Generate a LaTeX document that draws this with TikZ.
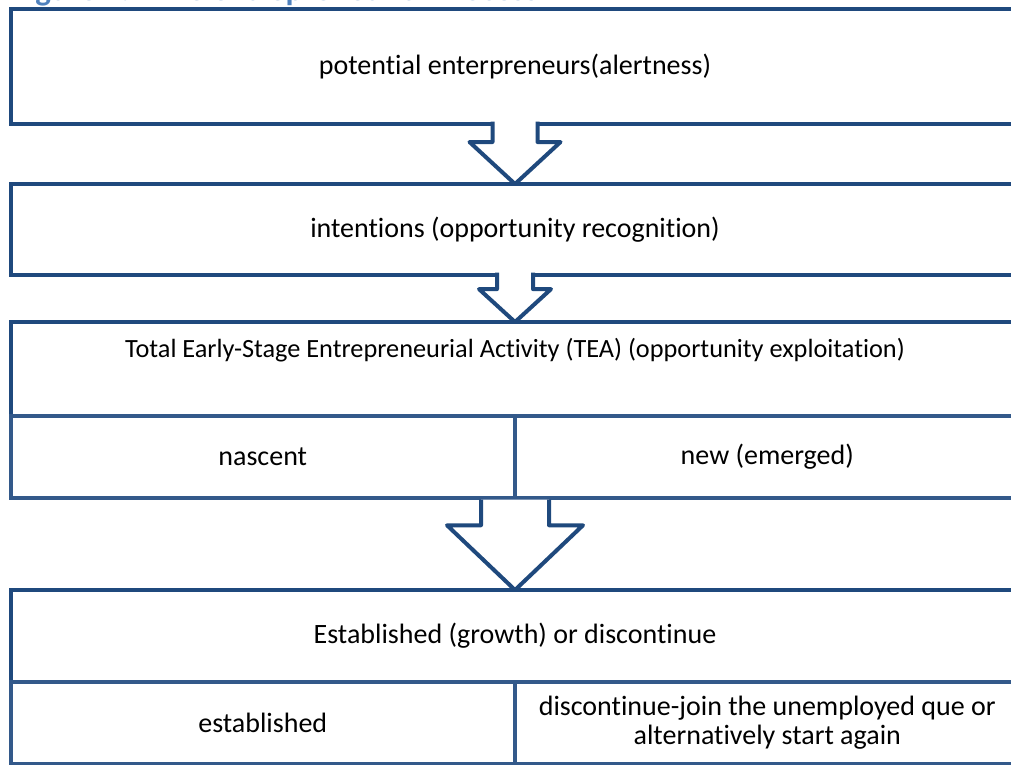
\documentclass[tikz,border=0pt]{standalone}
\usepackage{fontspec}
\setmainfont[Ligatures={NoCommon}]{Carlito}
\usetikzlibrary{calc}
\definecolor{frame}{HTML}{1F497D}
\definecolor{cellline}{HTML}{33598A}
\definecolor{titleblue}{HTML}{4F81BD}

% block arrow from the bottom edge of one box to the top edge of the next
% #1 from, #2 to, #3 shaft half width, #4 head half width, #5 start offset
\newcommand\downblock[5]{%
  \filldraw[arrowbody]
    ($(#1)+(-#3,#5)$) -- ($(#1)!0.3!(#2)+(-#3,0)$) -- ($(#1)!0.3!(#2)+(-#4,0)$)
    -- (#2) -- ($(#1)!0.3!(#2)+(#4,0)$) -- ($(#1)!0.3!(#2)+(#3,0)$) -- ($(#1)+(#3,#5)$);}

\begin{document}
\begin{tikzpicture}[x=1pt,y=-1pt,
  txt/.style={font=\fontsize{28}{29.5}\selectfont, text=black, align=center, inner sep=0pt},
  box/.style={draw=frame, line width=4pt, rectangle, outer sep=0pt, inner sep=0pt,
              minimum width=1009pt, txt},
  cell/.style={draw=cellline, line width=4pt, rectangle, outer sep=0pt, inner sep=0pt,
               minimum width=504.5pt, txt},
  arrowbody/.style={draw=frame, fill=white, line width=4pt, line join=round}]
\useasboundingbox (0,0) rectangle (1011,764);
\clip (0,0) rectangle (1011,764);

% heading above the chart
\node[anchor=base west, inner sep=0pt, text=titleblue,
      font=\bfseries\fontsize{33}{38}\selectfont] (title) at (12,0.5)
      {Figure 2.1 The entrepreneurial Process};

% stages
\node[box, minimum height=115pt] (b1) at (515,66.5) {potential enterpreneurs(alertness)};
\node[box, minimum height=91pt] (b2) at (515,229.5) {intentions (opportunity recognition)};

\node[box, minimum height=94pt] (b3) at (515,369) {};
\node[txt, font=\fontsize{26.3}{29}\selectfont] (t3) at ($(b3.north)+(0,28)$)
  {Total Early-Stage Entrepreneurial Activity (TEA) (opportunity exploitation)};
\node[cell, minimum height=81.5pt] (n31) at (262.75,456.75) {nascent};
\node[cell, minimum height=81.5pt] (n32) at (767.25,456.75) {new (emerged)};

\node[box, minimum height=92pt] (b4) at (515,636) {Established (growth) or discontinue};
\node[cell, minimum height=81.5pt] (n41) at (262.75,722.75) {established};
\node[cell, minimum height=81.5pt] (n42) at (767.25,722.75)
  {discontinue-join the unemployed que or\\alternatively start again};

% arrows between stages
\downblock{b1.south}{b2.north}{22.5}{45.5}{-2.5}
\downblock{b2.south}{b3.north}{18}{36}{-2.5}
\downblock{n31.south east}{b4.north}{34}{68}{2}
\end{tikzpicture}
\end{document}
